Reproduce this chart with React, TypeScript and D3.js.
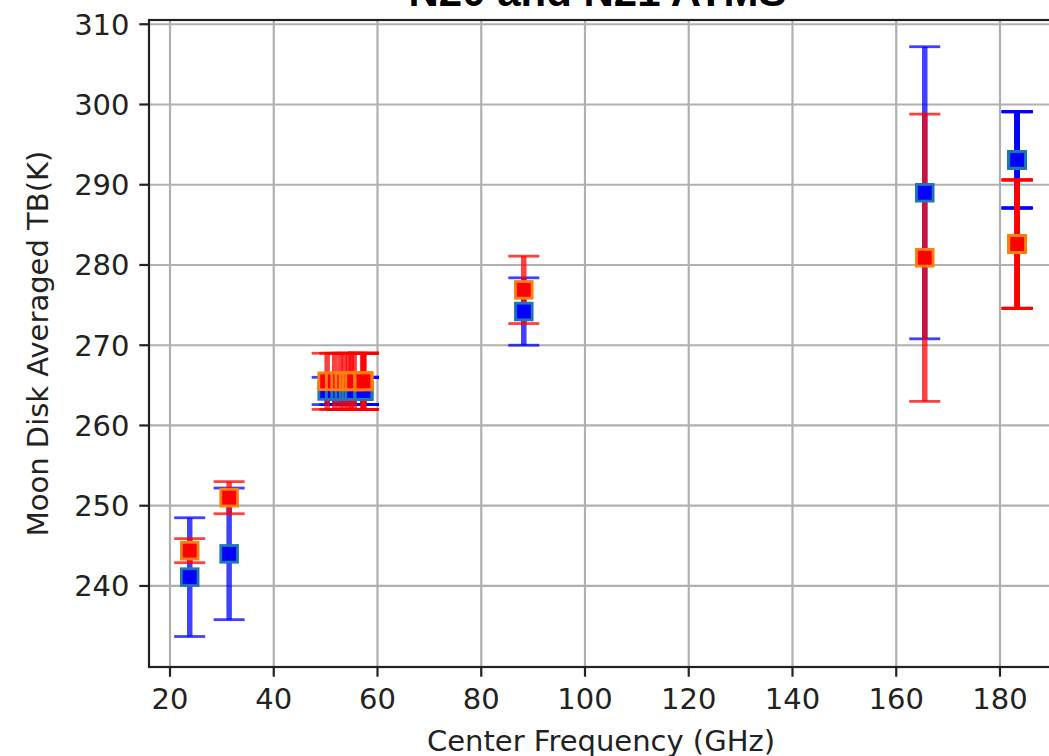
import * as d3 from "d3";

// ATMS channel centre frequencies (GHz); channels sharing a frequency overlap
const channelFreq = [
  23.8, 31.4, 50.3, 51.76, 52.8, 53.596, 54.4, 54.94, 55.5, 57.29, 57.29,
  57.29, 57.29, 57.29, 57.29, 88.2, 165.5, 183.31, 183.31, 183.31, 183.31,
  183.31,
];

// N20 (blue)
const n20Tb = [
  241.1, 244.0, 264.3, 264.3, 264.3, 264.3, 264.3, 264.3, 264.3, 264.3, 264.3,
  264.3, 264.3, 264.3, 264.3, 274.2, 289.0, 293.1, 293.1, 293.1, 293.1, 293.1,
];
const n20Err = [
  7.4, 8.2, 1.7, 1.7, 1.7, 1.7, 1.7, 1.7, 1.7, 1.7, 1.7, 1.7, 1.7, 1.7, 1.7,
  4.2, 18.2, 6.0, 6.0, 6.0, 6.0, 6.0,
];

// N21 (red)
const n21Tb = [
  244.4, 251.0, 265.5, 265.5, 265.5, 265.5, 265.5, 265.5, 265.5, 265.5, 265.5,
  265.5, 265.5, 265.5, 265.5, 276.9, 280.9, 282.6, 282.6, 282.6, 282.6, 282.6,
];
const n21Err = [
  1.5, 2.0, 3.5, 3.5, 3.5, 3.5, 3.5, 3.5, 3.5, 3.5, 3.5, 3.5, 3.5, 3.5, 3.5,
  4.2, 17.9, 8.0, 8.0, 8.0, 8.0, 8.0,
];

const xTicks = [20, 40, 60, 80, 100, 120, 140, 160, 180];
const yTicks = [240, 250, 260, 270, 280, 290, 300, 310];

const width = 1049;
const height = 756;
const left = 149;
const right = 1058.6;
const top = 20;
const bottom = 667;

const capHalf = 15.5;
const markerSize = 16.7;
const tickLen = 9.7;
const axisColor = "#222";

export default function App() {
  const x = d3.scaleLinear().domain([15.95, 191.3]).range([left, right]);
  const y = d3.scaleLinear().domain([229.9, 310.53]).range([bottom, top]);

  const series = [
    { name: "N20", tb: n20Tb, err: n20Err, color: "#0000ff", edge: "#1f77b4" },
    { name: "N21", tb: n21Tb, err: n21Err, color: "#ff0000", edge: "#ff7f0e" },
  ];

  return (
    <svg
      width={width}
      height={height}
      style={{ position: "absolute", left: 0, top: 0, display: "block" }}
      fontFamily="DejaVu Sans"
    >
      <rect width={width} height={height} fill="white" />

      {/* grid */}
      <g stroke="#b0b0b0" strokeWidth={2.2}>
        {xTicks.map((t) => (
          <line key={"gx" + t} x1={x(t)} x2={x(t)} y1={top} y2={bottom} />
        ))}
        {yTicks.map((t) => (
          <line key={"gy" + t} x1={left} x2={right} y1={y(t)} y2={y(t)} />
        ))}
      </g>

      {/* error bars, both series */}
      {series.map((s) => (
        <g key={s.name + "-err"} stroke={s.color} strokeOpacity={0.75}>
          {channelFreq.map((f, i) => {
            const cx = x(f);
            const y0 = y(s.tb[i] - s.err[i]);
            const y1 = y(s.tb[i] + s.err[i]);
            return (
              <g key={i}>
                <line x1={cx} x2={cx} y1={y0} y2={y1} strokeWidth={5.5} />
                <line x1={cx - capHalf} x2={cx + capHalf} y1={y0} y2={y0} strokeWidth={2.8} />
                <line x1={cx - capHalf} x2={cx + capHalf} y1={y1} y2={y1} strokeWidth={2.8} />
              </g>
            );
          })}
        </g>
      ))}

      {/* markers */}
      {series.map((s) => (
        <g key={s.name + "-mk"} fill={s.color} stroke={s.edge} strokeWidth={2.8}>
          {channelFreq.map((f, i) => (
            <rect
              key={i}
              x={x(f) - markerSize / 2}
              y={y(s.tb[i]) - markerSize / 2}
              width={markerSize}
              height={markerSize}
            />
          ))}
        </g>
      ))}

      {/* spines */}
      <rect
        x={left}
        y={top}
        width={right - left}
        height={bottom - top}
        fill="none"
        stroke={axisColor}
        strokeWidth={2.2}
      />

      {/* x axis */}
      <g fill={axisColor} fontSize={29}>
        {xTicks.map((t) => (
          <g key={"xt" + t}>
            <line
              x1={x(t)}
              x2={x(t)}
              y1={bottom}
              y2={bottom + tickLen}
              stroke={axisColor}
              strokeWidth={2.2}
            />
            <text x={x(t)} y={709} textAnchor="middle">
              {t}
            </text>
          </g>
        ))}
        <text x={(left + 1049) / 2 + 2} y={751} textAnchor="middle">
          Center Frequency (GHz)
        </text>
      </g>

      {/* y axis */}
      <g fill={axisColor} fontSize={29}>
        {yTicks.map((t) => (
          <g key={"yt" + t}>
            <line
              x1={left - tickLen}
              x2={left}
              y1={y(t)}
              y2={y(t)}
              stroke={axisColor}
              strokeWidth={2.2}
            />
            <text x={left - 19.5} y={y(t) + 10.5} textAnchor="end">
              {t}
            </text>
          </g>
        ))}
        <text
          transform={`translate(48,${(top + bottom) / 2}) rotate(-90)`}
          textAnchor="middle"
        >
          Moon Disk Averaged TB(K)
        </text>
      </g>

      {/* title, cropped at the top edge */}
      <text
        x={597.5}
        y={6}
        textAnchor="middle"
        fontFamily="Liberation Sans"
        fontWeight="bold"
        fontSize={42}
        fill="#000"
      >
        N20 and N21 ATMS
      </text>
    </svg>
  );
}
